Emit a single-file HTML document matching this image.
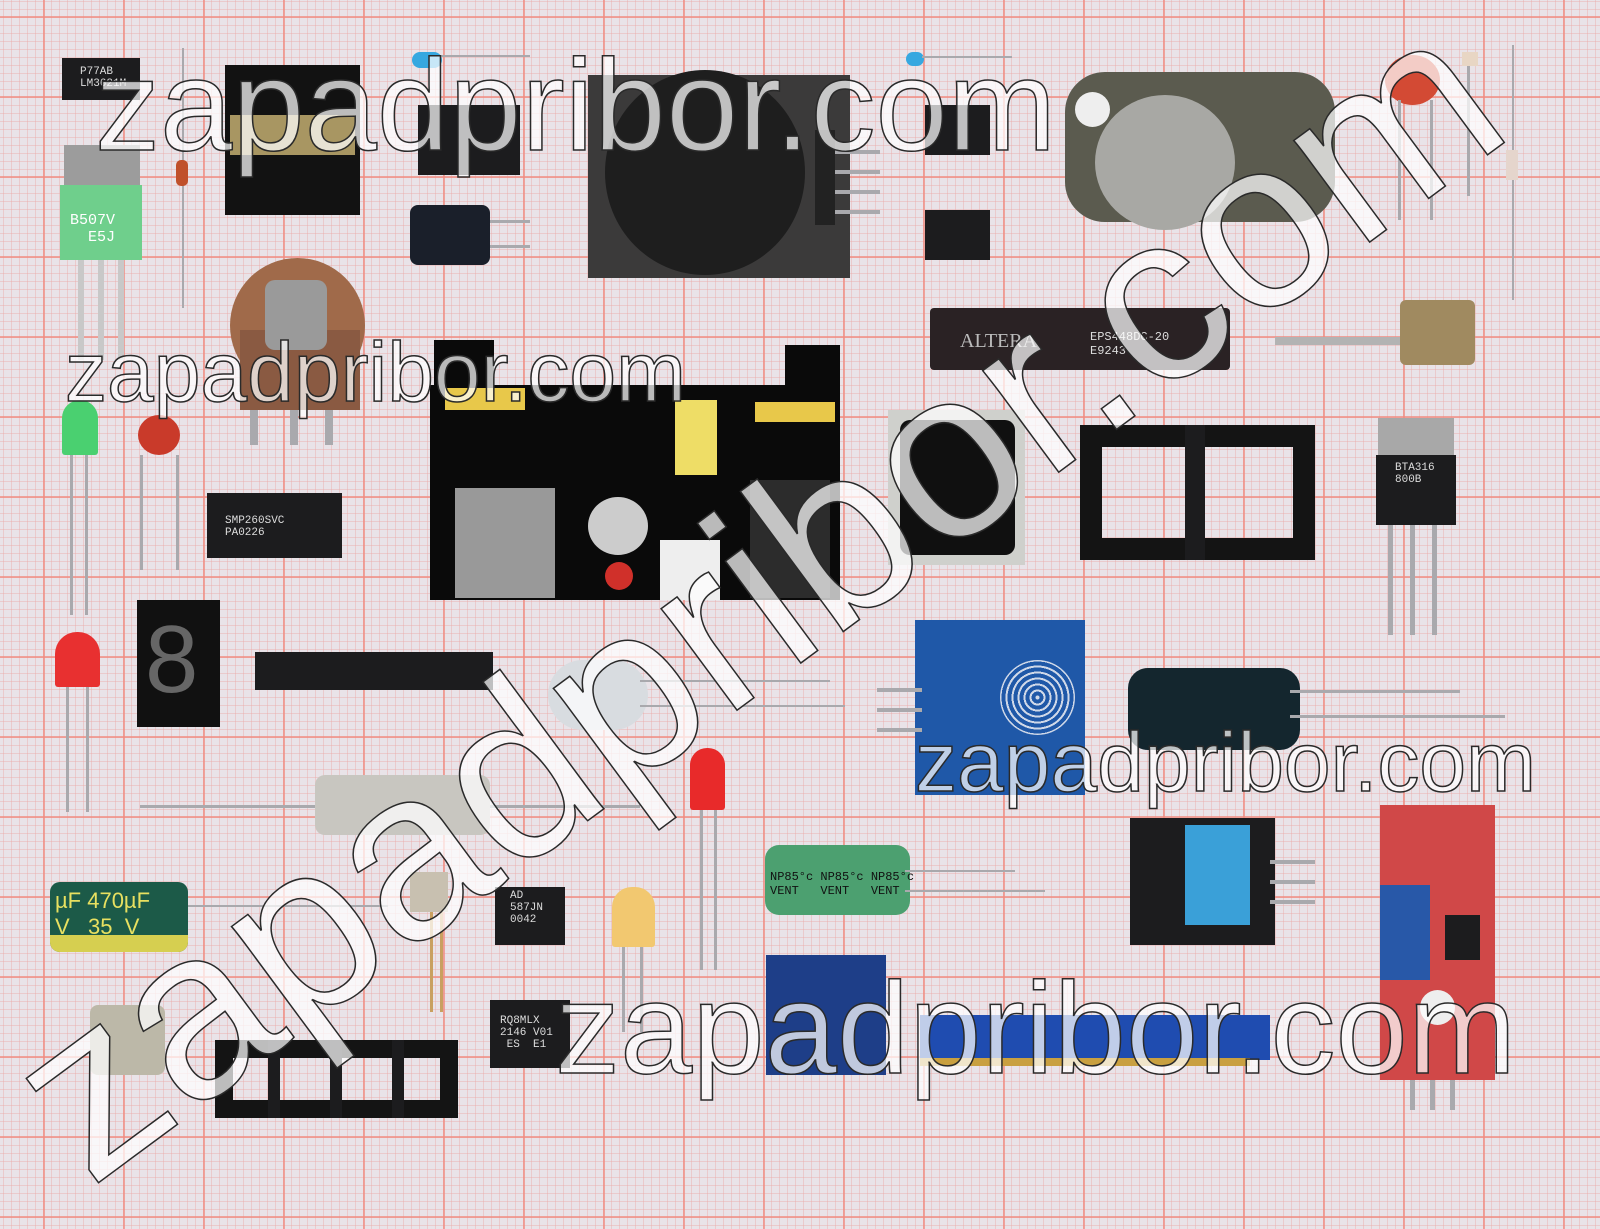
<!DOCTYPE html>
<html><head><meta charset="utf-8">
<style>
html,body{margin:0;padding:0}
body{width:1600px;height:1200px;position:relative;overflow:hidden;font-family:"Liberation Sans",sans-serif;
background-color:#e9e3e8;
background-image:
linear-gradient(90deg,rgba(240,140,130,.75) 0 2px,transparent 2px),
linear-gradient(0deg,rgba(240,140,130,.75) 0 2px,transparent 2px),
linear-gradient(90deg,rgba(235,170,170,.45) 0 1px,transparent 1px),
linear-gradient(0deg,rgba(235,170,170,.45) 0 1px,transparent 1px);
background-size:80px 80px,80px 80px,8px 8px,8px 8px;
background-position:43px 18px,43px 18px,3px 2px,3px 2px;}
.a{position:absolute;box-sizing:border-box}
.blk{background:#1c1c1e}
.lead{position:absolute;background:#a9a9ad}
.wm{position:absolute;white-space:nowrap;line-height:1;color:rgba(255,255,255,.72);-webkit-text-stroke:1.5px #2a2a2a;font-family:"Liberation Sans",sans-serif}
.t{color:#ddd;font-family:"Liberation Mono",monospace;font-size:11px;position:absolute}
</style></head><body>

<div class="a blk" style="left:62px;top:58px;width:78px;height:42px"></div>
<div class="t" style="left:80px;top:66px">P77AB<br>LM3621M</div>
<div class="lead" style="left:182px;top:48px;width:2px;height:260px"></div>
<div class="a" style="left:176px;top:160px;width:12px;height:26px;background:#c0502a;border-radius:5px"></div>
<div class="a" style="left:64px;top:145px;width:76px;height:45px;background:#9c9c9c"></div>
<div class="a" style="left:60px;top:185px;width:82px;height:75px;background:#6fcf8c"></div>
<div class="t" style="left:70px;top:212px;color:#fff;font-size:15px">B507V<br>&nbsp;&nbsp;E5J</div>
<div class="lead" style="left:78px;top:260px;width:6px;height:100px;background:#c8c8c8"></div>
<div class="lead" style="left:98px;top:260px;width:6px;height:100px;background:#c8c8c8"></div>
<div class="lead" style="left:118px;top:260px;width:6px;height:100px;background:#c8c8c8"></div>
<div class="a blk" style="left:225px;top:65px;width:135px;height:150px;background:#121212"></div>
<div class="a" style="left:230px;top:115px;width:125px;height:40px;background:#a89662"></div>
<div class="a blk" style="left:418px;top:105px;width:102px;height:70px"></div>
<div class="a" style="left:410px;top:205px;width:80px;height:60px;background:#1a1f2a;border-radius:8px"></div>
<div class="lead" style="left:490px;top:220px;width:40px;height:3px"></div>
<div class="lead" style="left:490px;top:245px;width:40px;height:3px"></div>
<div class="a" style="left:412px;top:52px;width:30px;height:16px;background:#36a8e0;border-radius:8px"></div>
<div class="lead" style="left:440px;top:55px;width:90px;height:2px"></div>
<div class="a" style="left:906px;top:52px;width:18px;height:14px;background:#36a8e0;border-radius:7px"></div>
<div class="lead" style="left:922px;top:56px;width:90px;height:2px"></div>
<div class="a" style="left:588px;top:75px;width:262px;height:203px;background:#3b3a3a"></div>
<div class="a" style="left:605px;top:70px;width:200px;height:205px;background:#1e1e1e;border-radius:50%"></div>
<div class="a" style="left:815px;top:130px;width:20px;height:95px;background:#222"></div>
<div class="lead" style="left:835px;top:150px;width:45px;height:4px"></div>
<div class="lead" style="left:835px;top:170px;width:45px;height:4px"></div>
<div class="lead" style="left:835px;top:190px;width:45px;height:4px"></div>
<div class="lead" style="left:835px;top:210px;width:45px;height:4px"></div>
<div class="a blk" style="left:925px;top:105px;width:65px;height:50px"></div>
<div class="a blk" style="left:925px;top:210px;width:65px;height:50px"></div>
<div class="a" style="left:1065px;top:72px;width:270px;height:150px;background:#5b5b4f;border-radius:40px"></div>
<div class="a" style="left:1095px;top:95px;width:140px;height:135px;background:#a8a8a4;border-radius:50%"></div>
<div class="a" style="left:1075px;top:92px;width:35px;height:35px;background:#eee;border-radius:50%"></div>
<div class="a" style="left:1385px;top:55px;width:55px;height:50px;background:#d34a34;border-radius:50%"></div>
<div class="lead" style="left:1398px;top:100px;width:3px;height:120px"></div>
<div class="lead" style="left:1430px;top:100px;width:3px;height:120px"></div>
<div class="a" style="left:1462px;top:52px;width:16px;height:14px;background:#e8d6c4"></div>
<div class="lead" style="left:1467px;top:66px;width:3px;height:130px"></div>
<div class="lead" style="left:1512px;top:45px;width:2px;height:255px"></div>
<div class="a" style="left:1506px;top:150px;width:12px;height:30px;background:#e5d5cc"></div>
<div class="a" style="left:230px;top:258px;width:135px;height:135px;background:#a06a4a;border-radius:50%"></div>
<div class="a" style="left:240px;top:330px;width:120px;height:80px;background:#8a5a42"></div>
<div class="a" style="left:265px;top:280px;width:62px;height:70px;background:#9a9a9a;border-radius:10px"></div>
<div class="lead" style="left:250px;top:410px;width:8px;height:35px"></div>
<div class="lead" style="left:290px;top:410px;width:8px;height:35px"></div>
<div class="lead" style="left:325px;top:410px;width:8px;height:35px"></div>
<div class="a" style="left:930px;top:308px;width:300px;height:62px;background:#2a2224;border-radius:4px"></div>
<div class="t" style="left:960px;top:330px;font-size:20px;color:#bbb;font-family:'Liberation Serif',serif">ALTERA</div>
<div class="t" style="left:1090px;top:330px;font-size:12px">EPS448DC-20<br>E9243</div>
<div class="lead" style="left:1275px;top:337px;width:130px;height:8px;background:#b3b3b3"></div>
<div class="a" style="left:1400px;top:300px;width:75px;height:65px;background:#a08a60;border-radius:6px"></div>
<div class="a" style="left:434px;top:340px;width:60px;height:50px;background:#0a0a0a"></div>
<div class="a" style="left:785px;top:345px;width:55px;height:45px;background:#0a0a0a"></div>
<div class="a" style="left:430px;top:385px;width:410px;height:215px;background:#0a0a0a"></div>
<div class="a" style="left:445px;top:388px;width:80px;height:22px;background:#e8c84a"></div>
<div class="a" style="left:755px;top:402px;width:80px;height:20px;background:#e8c84a"></div>
<div class="a" style="left:675px;top:400px;width:42px;height:75px;background:#eedd66"></div>
<div class="a" style="left:455px;top:488px;width:100px;height:110px;background:#999"></div>
<div class="a" style="left:588px;top:497px;width:60px;height:58px;background:#ccc;border-radius:50%"></div>
<div class="a" style="left:660px;top:540px;width:60px;height:60px;background:#eee"></div>
<div class="a" style="left:605px;top:562px;width:28px;height:28px;background:#d0302a;border-radius:50%"></div>
<div class="a" style="left:750px;top:480px;width:80px;height:118px;background:#2c2c2c"></div>
<div class="a" style="left:888px;top:410px;width:137px;height:155px;background:#cfd0cc"></div>
<div class="a" style="left:900px;top:420px;width:115px;height:135px;background:#101010;border-radius:10px"></div>
<div class="a" style="left:1080px;top:425px;width:235px;height:135px;border:22px solid #141414"></div>
<div class="a blk" style="left:1185px;top:425px;width:20px;height:135px"></div>
<div class="a" style="left:1378px;top:418px;width:76px;height:40px;background:#a8a8a8"></div>
<div class="a blk" style="left:1376px;top:455px;width:80px;height:70px"></div>
<div class="t" style="left:1395px;top:462px">BTA316<br>800B</div>
<div class="lead" style="left:1388px;top:525px;width:5px;height:110px"></div>
<div class="lead" style="left:1410px;top:525px;width:5px;height:110px"></div>
<div class="lead" style="left:1432px;top:525px;width:5px;height:110px"></div>
<div class="a" style="left:62px;top:400px;width:36px;height:55px;background:#4ad070;border-radius:18px 18px 3px 3px"></div>
<div class="lead" style="left:70px;top:455px;width:3px;height:160px"></div>
<div class="lead" style="left:85px;top:455px;width:3px;height:160px"></div>
<div class="a" style="left:138px;top:415px;width:42px;height:40px;background:#c93a2a;border-radius:50%"></div>
<div class="lead" style="left:140px;top:455px;width:3px;height:115px"></div>
<div class="lead" style="left:176px;top:455px;width:3px;height:115px"></div>
<div class="a blk" style="left:207px;top:493px;width:135px;height:65px"></div>
<div class="t" style="left:225px;top:515px">SMP260SVC<br>PA0226</div>
<div class="a" style="left:55px;top:632px;width:45px;height:55px;background:#e83030;border-radius:22px 22px 3px 3px"></div>
<div class="lead" style="left:66px;top:687px;width:3px;height:125px"></div>
<div class="lead" style="left:86px;top:687px;width:3px;height:125px"></div>
<div class="a" style="left:137px;top:600px;width:83px;height:127px;background:#111"></div>
<div class="t" style="left:145px;top:605px;font-size:96px;color:#666;font-family:'Liberation Sans',sans-serif">8</div>
<div class="a blk" style="left:255px;top:652px;width:238px;height:38px"></div>
<div class="a" style="left:548px;top:660px;width:100px;height:70px;background:#d8dce0;border-radius:40px"></div>
<div class="lead" style="left:640px;top:680px;width:190px;height:2px"></div>
<div class="lead" style="left:640px;top:705px;width:205px;height:2px"></div>
<div class="a" style="left:915px;top:620px;width:170px;height:175px;background:#1f58a8"></div>
<div class="a" style="left:1000px;top:660px;width:75px;height:75px;border-radius:50%;background:repeating-radial-gradient(#cfd8e8 0 2px,#1f58a8 2px 6px)"></div>
<div class="lead" style="left:877px;top:688px;width:45px;height:4px"></div>
<div class="lead" style="left:877px;top:708px;width:45px;height:4px"></div>
<div class="lead" style="left:877px;top:728px;width:45px;height:4px"></div>
<div class="a" style="left:1128px;top:668px;width:172px;height:82px;background:#14262e;border-radius:20px"></div>
<div class="lead" style="left:1290px;top:690px;width:170px;height:3px"></div>
<div class="lead" style="left:1290px;top:715px;width:215px;height:3px"></div>
<div class="lead" style="left:140px;top:805px;width:500px;height:3px"></div>
<div class="a" style="left:315px;top:775px;width:175px;height:60px;background:#c8c6c0;border-radius:10px"></div>
<div class="a" style="left:690px;top:748px;width:35px;height:62px;background:#e82a2a;border-radius:17px 17px 3px 3px"></div>
<div class="lead" style="left:700px;top:810px;width:3px;height:160px"></div>
<div class="lead" style="left:714px;top:810px;width:3px;height:160px"></div>
<div class="a" style="left:765px;top:845px;width:145px;height:70px;background:#4ca070;border-radius:14px"></div>
<div class="t" style="left:770px;top:870px;color:#111;font-size:12px">NP85°c NP85°c NP85°c<br>VENT&nbsp;&nbsp; VENT&nbsp;&nbsp; VENT</div>
<div class="lead" style="left:905px;top:870px;width:110px;height:2px"></div>
<div class="lead" style="left:905px;top:890px;width:140px;height:2px"></div>
<div class="a blk" style="left:1130px;top:818px;width:145px;height:127px"></div>
<div class="a" style="left:1185px;top:825px;width:65px;height:100px;background:#3aa0d8"></div>
<div class="lead" style="left:1270px;top:860px;width:45px;height:4px"></div>
<div class="lead" style="left:1270px;top:880px;width:45px;height:4px"></div>
<div class="lead" style="left:1270px;top:900px;width:45px;height:4px"></div>
<div class="a" style="left:1380px;top:805px;width:115px;height:275px;background:#d04848"></div>
<div class="a" style="left:1380px;top:885px;width:50px;height:95px;background:#2858a8"></div>
<div class="a blk" style="left:1445px;top:915px;width:35px;height:45px"></div>
<div class="a" style="left:1420px;top:990px;width:35px;height:35px;background:#eee;border-radius:50%"></div>
<div class="lead" style="left:1410px;top:1080px;width:5px;height:30px"></div>
<div class="lead" style="left:1430px;top:1080px;width:5px;height:30px"></div>
<div class="lead" style="left:1450px;top:1080px;width:5px;height:30px"></div>
<div class="a" style="left:50px;top:882px;width:138px;height:70px;background:#1c5a48;border-radius:10px"></div>
<div class="a" style="left:50px;top:935px;width:138px;height:17px;background:#d6cf50;border-radius:0 0 10px 10px"></div>
<div class="t" style="left:55px;top:888px;color:#e8e060;font-size:22px;font-family:'Liberation Sans',sans-serif">µF 470µF<br>V&nbsp;&nbsp; 35&nbsp; V</div>
<div class="lead" style="left:188px;top:905px;width:200px;height:2px"></div>
<div class="a" style="left:410px;top:872px;width:38px;height:40px;background:#c8c0b0"></div>
<div class="lead" style="left:430px;top:912px;width:3px;height:100px;background:#c9a060"></div>
<div class="lead" style="left:440px;top:912px;width:3px;height:100px;background:#c9a060"></div>
<div class="a blk" style="left:495px;top:887px;width:70px;height:58px"></div>
<div class="t" style="left:510px;top:890px">AD<br>587JN<br>0042</div>
<div class="a" style="left:612px;top:887px;width:43px;height:60px;background:#f2c870;border-radius:20px 20px 3px 3px"></div>
<div class="lead" style="left:622px;top:947px;width:3px;height:85px"></div>
<div class="lead" style="left:640px;top:947px;width:3px;height:85px"></div>
<div class="a" style="left:90px;top:1005px;width:75px;height:70px;background:#bcb8a8;border-radius:8px"></div>
<div class="a blk" style="left:490px;top:1000px;width:80px;height:68px"></div>
<div class="t" style="left:500px;top:1015px">RQ8MLX<br>2146 V01<br>&nbsp;ES&nbsp; E1</div>
<div class="a" style="left:215px;top:1040px;width:243px;height:78px;border:18px solid #141414"></div>
<div class="a blk" style="left:268px;top:1040px;width:12px;height:78px"></div>
<div class="a blk" style="left:330px;top:1040px;width:12px;height:78px"></div>
<div class="a blk" style="left:392px;top:1040px;width:12px;height:78px"></div>
<div class="a" style="left:766px;top:955px;width:120px;height:120px;background:#1e3e88"></div>
<div class="a" style="left:920px;top:1015px;width:350px;height:45px;background:#1f4cb0"></div>
<div class="a" style="left:920px;top:1058px;width:330px;height:8px;background:#c9a040"></div>

<div class="wm" style="left:95px;top:40px;font-size:130px">zapadpribor.com</div>
<div class="wm" style="left:65px;top:330px;font-size:84px">zapadpribor.com</div>
<div class="wm" style="left:915px;top:720px;font-size:84px">zapadpribor.com</div>
<div class="wm" style="left:555px;top:963px;font-size:130px">zapadpribor.com</div>
<div class="wm" style="left:80px;top:1174px;font-size:240px;transform-origin:0 0;transform:rotate(-36.5deg) translateY(-185px)">zapadpribor.com</div>
</body></html>
